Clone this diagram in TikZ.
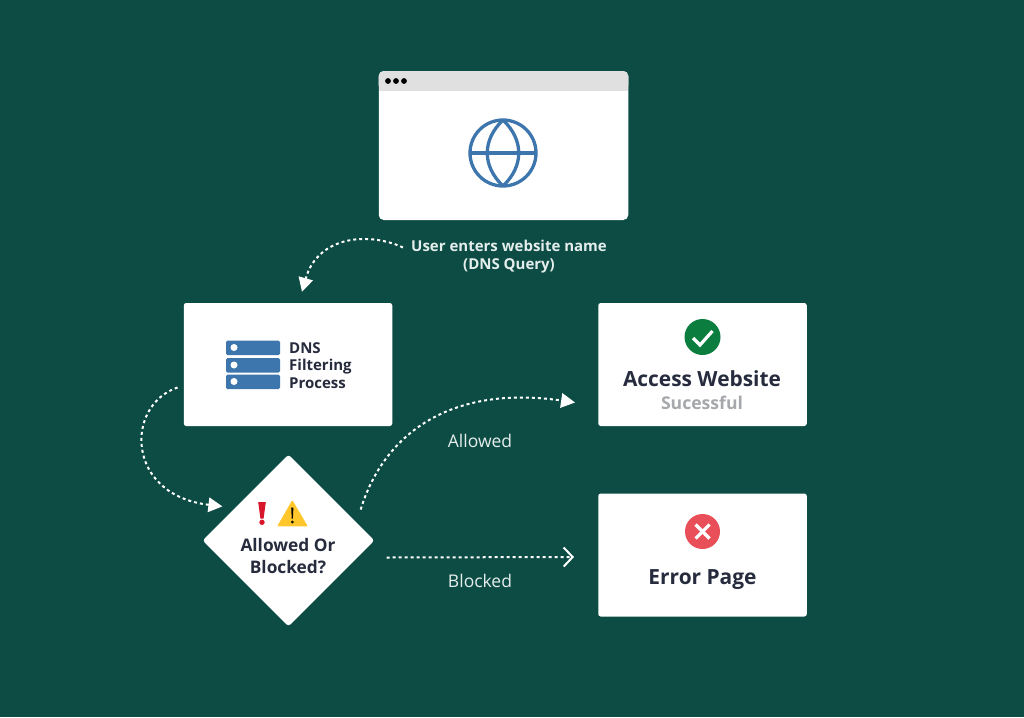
\documentclass[tikz,border=0pt]{standalone}
\usepackage{fontspec}
\setmainfont{Open Sans}
\usetikzlibrary{arrows.meta,shapes.geometric}
\definecolor{bgc}{HTML}{0D4C44}
\definecolor{inkc}{HTML}{262B3D}
\definecolor{bluec}{HTML}{3D76AD}
\definecolor{barc}{HTML}{E0E0E0}
\definecolor{grayc}{HTML}{A6A8AC}
\definecolor{greenc}{HTML}{0B7D3E}
\definecolor{redc}{HTML}{E84F58}
\definecolor{alertc}{HTML}{D8152A}
\definecolor{yellowc}{HTML}{FFC72C}
\definecolor{labelc}{HTML}{E4EEEC}
\tikzset{
  card/.style={fill=white,rounded corners=2.5pt,minimum width=208.5pt,minimum height=123pt,inner sep=0pt},
  flow/.style={draw=white,line width=2pt,dash pattern=on 3pt off 3pt},
  headfill/.style={-{Triangle[length=14pt,width=14.5pt,fill=white]}},
  headopen/.style={-{Straight Barb[length=9pt,width=19pt,line width=2pt]}},
  title/.style={font=\fontsize{20.9}{24}\selectfont\bfseries,text=inkc,inner sep=0pt},
  edgelabel/.style={font=\fontsize{17.5}{20}\selectfont,text=labelc,inner sep=0pt},
  barbox/.style={fill=bluec,rounded corners=1.5pt},
}
\begin{document}
\begin{tikzpicture}[x=1pt,y=-1pt]
\useasboundingbox (0,0) rectangle (1024,717);
\fill[bgc] (0,0) rectangle (1024,717);

% browser window
\node[card,minimum width=249.5pt,minimum height=149pt,rounded corners=5pt] (browser) at (503.5,145.5) {};
\fill[barc,rounded corners=5pt] (378.7,90.5) -- (378.7,71) -- (628.3,71) -- (628.3,90.5) -- cycle;
\fill[barc] (378.7,80) rectangle (628.3,90.5);
\foreach \dotx in {388,396,404} \fill[black] (\dotx,81) circle (2.9pt);
\begin{scope}[draw=bluec,line width=3.3pt]
  \draw (503,153) circle (33pt);
  \draw (470,153) -- (536,153);
  \draw (503,120) .. controls (482,140) and (482,166) .. (503,186);
  \draw (503,120) .. controls (524,140) and (524,166) .. (503,186);
\end{scope}

% query label
\node[font=\fontsize{15}{18}\selectfont\bfseries,text=labelc,align=center,inner sep=0pt] (query) at (509,256.5) {User enters website name\\(DNS Query)};

% DNS box
\node[card] (dns) at (288,364.5) {};
\foreach \bary in {340.5,358,374.5} {
  \fill[barbox] (226,\bary) rectangle (280,\bary+14.5);
  \fill[white] (234,\bary+7) circle (3.5pt);
}
\node[font=\fontsize{15}{17.4}\selectfont\bfseries,text=inkc,align=left,inner sep=0pt,anchor=west] (dnstext) at (289,365.5) {DNS\\Filtering\\Process};

% decision
\node[diamond,aspect=1,fill=white,rounded corners=3pt,minimum width=172pt,minimum height=172pt,inner sep=0pt] (decide) at (288.5,540.5) {};
\fill[alertc] (258.2,502) -- (265.8,502) -- (263.6,518.5) -- (260.4,518.5) -- cycle;
\fill[alertc] (262,522.3) circle (2.7pt);
\fill[yellowc,draw=yellowc,line width=1.5pt,line join=round] (292.3,501.5) -- (306.5,525.5) -- (278.5,525.5) -- cycle;
\fill[black] (291.2,507.5) -- (293.4,507.5) -- (292.9,518.5) -- (291.7,518.5) -- cycle;
\fill[black] (292.3,522) circle (1.5pt);
\node[font=\fontsize{17.3}{22}\selectfont\bfseries,text=inkc,align=center,inner sep=0pt] (decidetext) at (288,556) {Allowed Or\\Blocked?};

% success
\node[card] (access) at (702.5,364.5) {};
\fill[greenc] (702.5,337) circle (18pt);
\draw[white,line width=3.2pt] (693,338) -- (700,345) -- (712.5,331);
\node[title] (accesstitle) at (702,378.5) {Access Website};
\node[font=\fontsize{17.6}{20}\selectfont\bfseries,text=grayc,inner sep=0pt] (accesssub) at (702,403) {Sucessful};

% error
\node[card] (error) at (702.5,555) {};
\fill[redc] (702.5,531.5) circle (17.5pt);
\draw[white,line width=3.2pt] (695.5,524.5) -- (709.5,538.5) (709.5,524.5) -- (695.5,538.5);
\node[title] (errortitle) at (702.5,579.5) {Error Page};

% connectors
\draw[flow,headfill] ([shift={(-8,-9)}]query.west) .. controls (370,232) and (318,235) .. ([shift={(14,-11)}]dns.north);
\draw[flow,headfill] ([shift={(-6,23)}]dns.west) .. controls (125,405) and (125,495) .. ([shift={(-23,9)}]decide.north west);
\draw[flow,headfill] ([shift={(-14,-31)}]decide.east) .. controls (385,430) and (455,385) .. ([shift={(-23,38)}]access.west);
\draw[flow,headopen] ([shift={(12,17)}]decide.east) -- ([shift={(-24,2)}]error.west);

\node[edgelabel] (allowed) at (480,440.5) {Allowed};
\node[edgelabel] (blocked) at (480,580.5) {Blocked};
\end{tikzpicture}
\end{document}
